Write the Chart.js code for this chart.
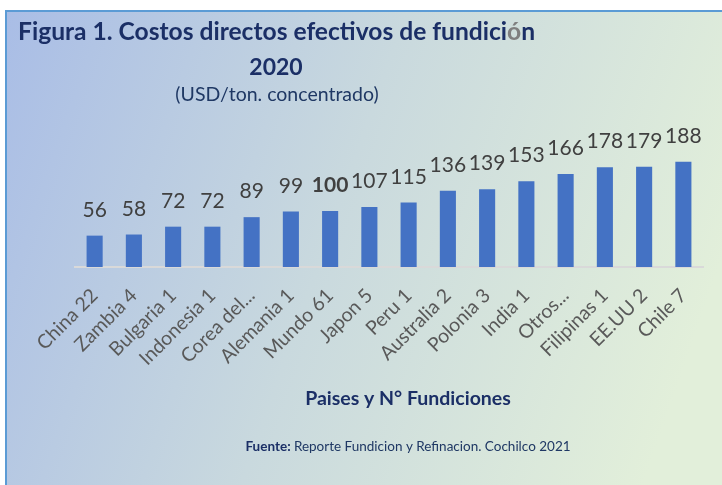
<!DOCTYPE html>
<html>
<head>
<meta charset="utf-8">
<script src="https://cdn.jsdelivr.net/npm/chart.js@4.4.0/dist/chart.umd.min.js"></script>
<style>
  html, body { margin: 0; padding: 0; background: #ffffff; }
  #wrap { width: 722px; height: 485px; }
</style>
</head>
<body>
<div id="wrap"><canvas id="costosChart" width="722" height="485"></canvas></div>
<script>
// data
const categories = ['China 22', 'Zambia 4', 'Bulgaria 1', 'Indonesia 1', 'Corea del...', 'Alemania 1', 'Mundo 61', 'Japon 5', 'Peru 1', 'Australia 2', 'Polonia 3', 'India 1', 'Otros...', 'Filipinas 1', 'EE.UU 2', 'Chile 7'];
const costs = [56, 58, 72, 72, 89, 99, 100, 107, 115, 136, 139, 153, 166, 178, 179, 188];
const highlighted = ['Mundo 61'];

const FONT = 'Lato, "Open Sans", sans-serif';
const NAVY = '#1b2f66';

// panel background + border
const panelBg = {
  id: 'panelBg',
  beforeDraw(chart) {
    const ctx = chart.ctx;
    const w = chart.width, h = chart.height;
    ctx.save();
    ctx.fillStyle = '#ffffff';
    ctx.fillRect(0, 0, w, h);
    const g = ctx.createLinearGradient(5, 10, w, 260);
    g.addColorStop(0, '#a9bde6');
    g.addColorStop(0.5, '#c9d9de');
    g.addColorStop(1, '#e2efda');
    ctx.fillStyle = g;
    ctx.fillRect(5, 10, w - 5, h - 10);
    ctx.strokeStyle = '#5b9bd5';
    ctx.lineWidth = 2;
    ctx.beginPath();
    ctx.moveTo(6, h);
    ctx.lineTo(6, 11);
    ctx.lineTo(w, 11);
    ctx.stroke();
    ctx.restore();
  }
};

// title, subtitle, axis title and source line
const texts = {
  id: 'texts',
  afterDraw(chart) {
    const ctx = chart.ctx;
    ctx.save();
    ctx.textBaseline = 'alphabetic';

    ctx.font = 'bold 24.6px ' + FONT;
    ctx.fillStyle = NAVY;
    ctx.textAlign = 'left';
    const t1 = 'Figura 1. Costos directos efectivos de fundici';
    ctx.fillText(t1, 18, 40);
    const w1 = ctx.measureText(t1).width;
    ctx.fillStyle = '#7f7f7f';
    ctx.fillText('ó', 18 + w1, 40);
    ctx.fillStyle = NAVY;
    ctx.fillText('n', 18 + w1 + ctx.measureText('ó').width, 40);

    ctx.font = 'bold 23px ' + FONT;
    ctx.textAlign = 'center';
    ctx.fillText('2020', 276, 75);

    ctx.font = '19.5px ' + FONT;
    ctx.fillStyle = '#1f3864';
    ctx.fillText('(USD/ton. concentrado)', 277, 101);

    ctx.font = 'bold 19.5px ' + FONT;
    ctx.fillStyle = NAVY;
    ctx.fillText('Paises y N° Fundiciones', 408, 405);

    const a = 'Fuente: ';
    const b = 'Reporte Fundicion y Refinacion. Cochilco 2021';
    ctx.font = '13.5px ' + FONT;
    const wb = ctx.measureText(b).width;
    ctx.font = 'bold 13.5px ' + FONT;
    const wa = ctx.measureText(a).width;
    const x0 = 408 - (wa + wb) / 2;
    ctx.textAlign = 'left';
    ctx.fillText(a, x0, 451);
    ctx.font = '13.5px ' + FONT;
    ctx.fillStyle = '#1f3864';
    ctx.fillText(b, x0 + wa, 451);
    ctx.restore();
  }
};

// value labels over the bars
const valueLabels = {
  id: 'valueLabels',
  afterDatasetsDraw(chart) {
    const ctx = chart.ctx;
    const meta = chart.getDatasetMeta(0);
    ctx.save();
    ctx.textAlign = 'center';
    ctx.textBaseline = 'alphabetic';
    ctx.fillStyle = '#404040';
    meta.data.forEach((bar, i) => {
      const bold = highlighted.includes(categories[i]);
      ctx.font = (bold ? 'bold ' : '') + '21px ' + FONT;
      ctx.fillText(String(costs[i]), bar.x, bar.y - 19);
    });
    ctx.restore();
  }
};

const ctx = document.getElementById('costosChart').getContext('2d');
new Chart(ctx, {
  type: 'bar',
  data: {
    labels: categories,
    datasets: [
      {
        label: 'Costos directos',
        data: costs,
        backgroundColor: '#4472c4',
        borderWidth: 0,
        categoryPercentage: 1,
        barPercentage: 0.41,
      },
    ],
  },
  options: {
    responsive: false,
    animation: false,
    layout: {
      padding: { top: 155, left: 75, right: 19, bottom: 0 },
    },
    plugins: {
      legend: { display: false },
      title: { display: false },
      tooltip: { enabled: false },
    },
    scales: {
      x: {
        grid: { display: false },
        border: { display: true, color: '#d9d9d9', width: 2 },
        ticks: {
          autoSkip: false,
          minRotation: 45,
          maxRotation: 45,
          padding: 9,
          color: '#595959',
          font: { family: FONT, size: 19.5 },
        },
        afterFit(scale) {
          scale.height = 218;
        },
      },
      y: {
        display: false,
        min: 0,
        max: 200,
      },
    },
  },
  plugins: [panelBg, valueLabels, texts],
});
</script>
</body>
</html>
